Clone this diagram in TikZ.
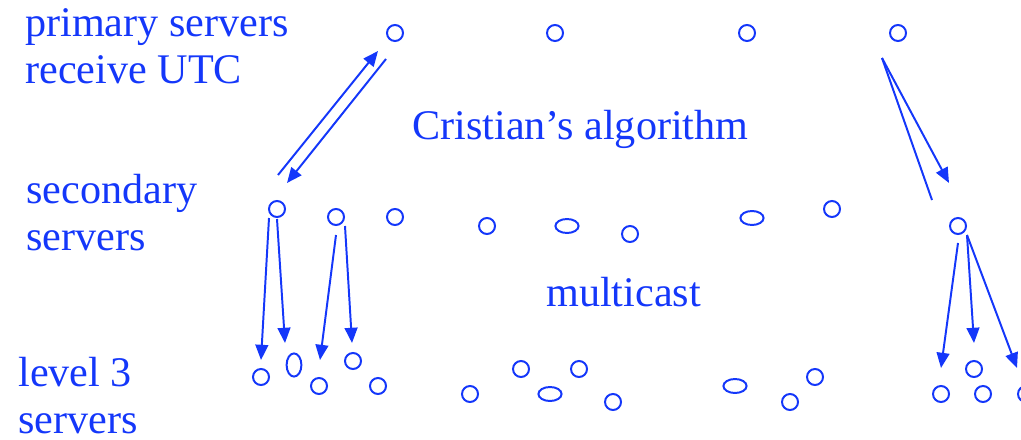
\documentclass[tikz,border=0pt]{standalone}
\usepackage{fontspec}
\setmainfont{Liberation Serif}
\usetikzlibrary{arrows.meta,shapes.geometric}
\definecolor{SyncBlue}{RGB}{20,55,250}

\begin{document}
\begin{tikzpicture}[
  x=0.025cm, y=-0.025cm,
  font=\fontsize{30}{33}\selectfont,
  server/.style={
    circle, draw=SyncBlue, line width=1.4pt,
    minimum size=0.4cm, inner sep=0pt},
  wideserver/.style={
    ellipse, draw=SyncBlue, line width=1.4pt,
    minimum width=0.58cm, minimum height=0.35cm,
    inner sep=0pt},
  tallserver/.style={
    ellipse, draw=SyncBlue, line width=1.4pt,
    minimum width=0.37cm, minimum height=0.58cm,
    inner sep=0pt},
  tierlabel/.style={
    anchor=base west, inner sep=0pt,
    align=left, text=SyncBlue},
  sync/.style={
    -{Triangle[length=0.38cm, width=0.32cm]},
    line width=1.4pt, draw=SyncBlue},
  plain/.style={line width=1.4pt, draw=SyncBlue}
]
\clip (0,0) rectangle (1021,440);

% labels (base = last line)
\node[tierlabel] (lprim) at (25,83)
  {primary servers\\receive UTC};
\node[tierlabel] (lsec) at (26,250)
  {secondary\\servers};
\node[tierlabel] (llev) at (18,433)
  {level 3\\servers};
\node[tierlabel] (lcrist) at (412,139)
  {Cristian’s algorithm};
\node[tierlabel] (lmulti) at (546,306)
  {multicast};

% primary servers
\node[server] (p1) at (395,33) {};
\node[server] (p2) at (555,33) {};
\node[server] (p3) at (747,33) {};
\node[server] (p4) at (898,33) {};

% secondary servers
\node[server] (s1) at (277,209) {};
\node[server] (s2) at (336,217) {};
\node[server] (s3) at (395,217) {};
\node[server] (s4) at (487,226) {};
\node[wideserver] (s5) at (567,226) {};
\node[server] (s6) at (630,234) {};
\node[wideserver] (s7) at (752,218) {};
\node[server] (s8) at (832,209) {};
\node[server] (s9) at (958,226) {};

% level 3 servers
\node[server] (t1) at (261,377) {};
\node[tallserver] (t2) at (294,365) {};
\node[server] (t3) at (319,386) {};
\node[server] (t4) at (353,361) {};
\node[server] (t5) at (378,386) {};
\node[server] (t6) at (470,394) {};
\node[server] (t7) at (521,369) {};
\node[wideserver] (t8) at (550,394) {};
\node[server] (t9) at (579,369) {};
\node[server] (t10) at (613,402) {};
\node[wideserver] (t11) at (735,386) {};
\node[server] (t12) at (790,402) {};
\node[server] (t13) at (815,377) {};
\node[server] (t14) at (941,394) {};
\node[server] (t15) at (974,369) {};
\node[server] (t16) at (983,394) {};
\node[server] (t17) at (1026,394) {};

% Cristian request / reply
\draw[sync] ([shift={(1,-34)}]s1.center)
  -- ([shift={(-17,18)}]p1.center);
\draw[sync] ([shift={(-9,26)}]p1.center)
  -- ([shift={(10,-26)}]s1.center);
\draw[sync] ([shift={(-16,25)}]p4.center)
  -- ([shift={(-9,-43)}]s9.center);
\draw[plain] ([shift={(-16,25)}]p4.center)
  -- ([shift={(-26,-26)}]s9.center);

% secondary to level 3
\draw[sync] ([shift={(-8,9)}]s1.center)
  -- ([shift={(0,-17)}]t1.center);
\draw[sync] ([shift={(0,10)}]s1.center)
  -- ([shift={(-9,-22)}]t2.center);
\draw[sync] ([shift={(0,18)}]s2.center)
  -- ([shift={(1,-26)}]t3.center);
\draw[sync] ([shift={(9,9)}]s2.center)
  -- ([shift={(-1,-18)}]t4.center);
\draw[sync] ([shift={(0,17)}]s9.center)
  -- ([shift={(0,-26)}]t14.center);
\draw[sync] ([shift={(9,9)}]s9.center)
  -- ([shift={(0,-26)}]t15.center);
\draw[sync] ([shift={(9,9)}]s9.center)
  -- ([shift={(-9,-26)}]t17.center);
\end{tikzpicture}
\end{document}
